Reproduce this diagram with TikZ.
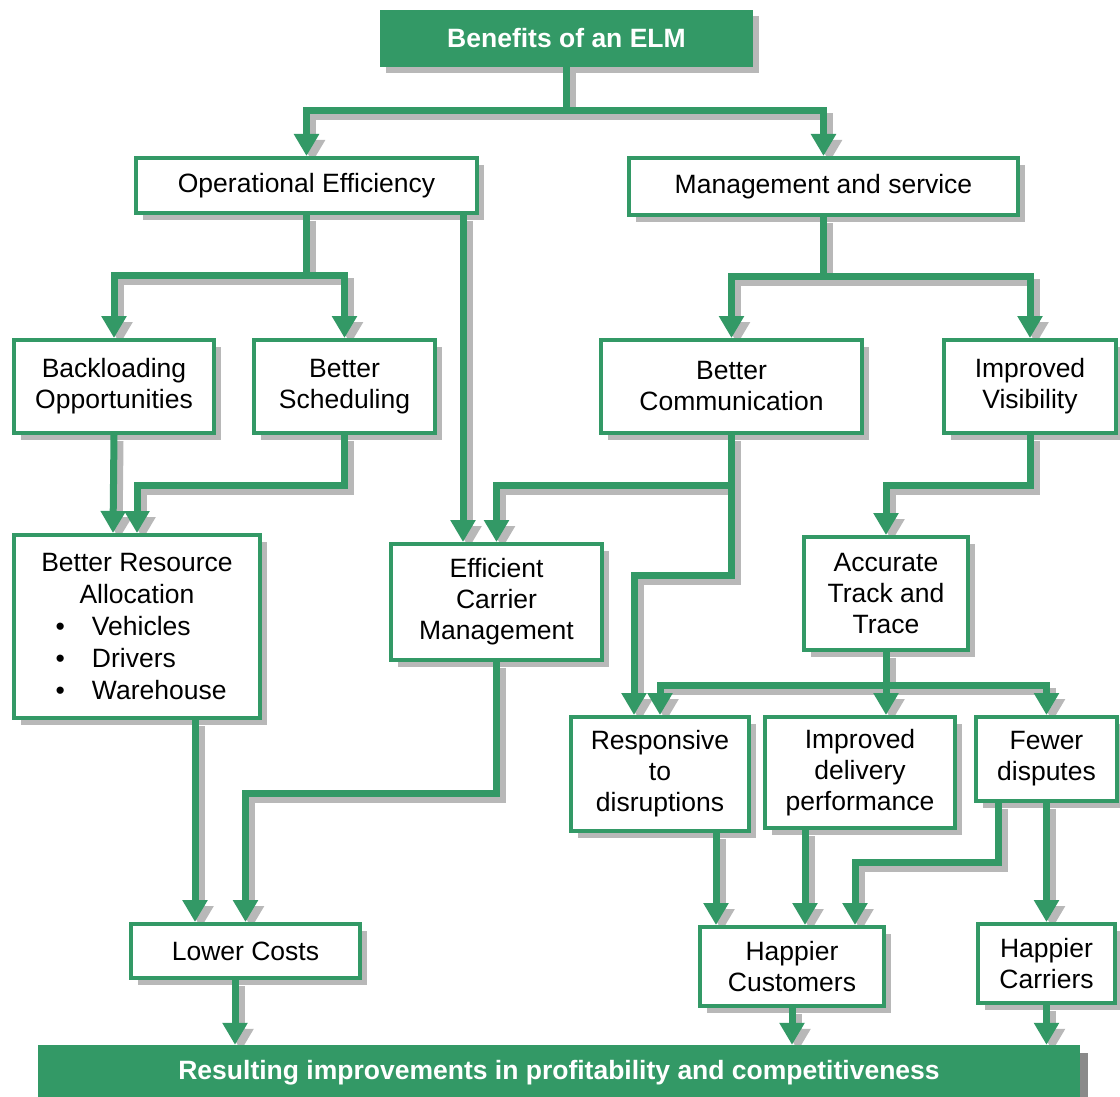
\documentclass[tikz,border=0pt]{standalone}
\usepackage{fontspec}
\setmainfont{Liberation Sans}
\usetikzlibrary{arrows.meta,shadows}
\definecolor{elmgreen}{HTML}{339966}
\definecolor{shgray}{HTML}{B8B8B8}
\definecolor{bargray}{HTML}{8A8A8A}
\pgfdeclarelayer{background}
\pgfsetlayers{background,main}
\newcommand\cnx[1]{%
  \begin{pgfonlayer}{background}\draw[conn,shgray,transform canvas={shift={(6pt,-6pt)}}] #1;\end{pgfonlayer}%
  \draw[conn] #1;}
\tikzset{
  conn/.style={draw=elmgreen, line width=7pt, line join=miter, -{Triangle[width=24pt,length=22pt]}},
  box/.style={draw=elmgreen, line width=4pt, fill=white, align=center, inner sep=0pt,
    font=\fontsize{26.5}{31}\selectfont,
    drop shadow={shadow xshift=7pt, shadow yshift=-7pt, opacity=1, fill=shgray}},
  hdr/.style={fill=elmgreen, draw=none, text=white, inner sep=0pt, align=center,
    font=\bfseries\fontsize{26.5}{31}\selectfont},
}
\begin{document}
\begin{tikzpicture}[x=1pt,y=-1pt]
\useasboundingbox (0,0) rectangle (1120,1097);
% header and footer
\node[hdr, minimum width=373pt, minimum height=57pt,
  drop shadow={shadow xshift=6pt, shadow yshift=-6pt, opacity=1, fill=shgray}] (title) at (566.5,38.5) {Benefits of an ELM};
\node[hdr, minimum width=1042pt, minimum height=56pt,
  drop shadow={shadow xshift=8pt, shadow yshift=-8pt, opacity=1, fill=bargray}] (bar) at (559,1073) {Resulting improvements in profitability and competitiveness};
% boxes
\node[box, minimum width=341pt, minimum height=55pt] (oe) at (306.5,185.5) {Operational Efficiency};
\node[box, minimum width=389pt, minimum height=57pt] (ms) at (823.5,186.5) {Management and service};
\node[box, minimum width=200pt, minimum height=93pt] (bo) at (114,386.5) {Backloading\\Opportunities};
\node[box, minimum width=181pt, minimum height=93pt] (bs) at (344.5,386.5) {Better\\Scheduling};
\node[box, minimum width=261pt, minimum height=93pt] (bc) at (731.5,386.5) {Better\\Communication};
\node[box, minimum width=172pt, minimum height=93pt] (iv) at (1030,386.5) {Improved\\Visibility};
\node[box, minimum width=246pt, minimum height=183pt, align=left, font=\fontsize{26.5}{32}\selectfont] (bra) at (137,626.5)
  {\makebox[230pt]{Better Resource}\\\makebox[230pt]{Allocation}\\
   \hspace*{33.5pt}\makebox[36.5pt][l]{\textbullet}Vehicles\\
   \hspace*{33.5pt}\makebox[36.5pt][l]{\textbullet}Drivers\\
   \hspace*{33.5pt}\makebox[36.5pt][l]{\textbullet}Warehouse};
\node[box, minimum width=211pt, minimum height=116pt] (ecm) at (496.5,602) {Efficient\\Carrier\\Management};
\node[box, minimum width=164pt, minimum height=113pt] (att) at (886,593.5) {Accurate\\Track and\\Trace};
\node[box, minimum width=178pt, minimum height=114pt] (rd) at (660,774) {Responsive\\to\\disruptions};
\node[box, minimum width=190pt, minimum height=111pt] (idp) at (860,772.5) {Improved\\delivery\\performance};
\node[box, minimum width=141pt, minimum height=84pt] (fd) at (1046.5,759) {Fewer\\disputes};
\node[box, minimum width=229pt, minimum height=54pt] (lc) at (245.5,951) {Lower Costs};
\node[box, minimum width=184pt, minimum height=79pt] (hcu) at (792,966.5) {Happier\\Customers};
\node[box, minimum width=137pt, minimum height=79pt] (hca) at (1046.5,963.5) {Happier\\Carriers};
% connectors
\cnx{(title.south) -- ++(0,43) -| (oe.north)}
\cnx{(title.south) -- ++(0,43) -| (ms.north)}
\cnx{(oe.south) -- ++(0,60) -| (bo.north)}
\cnx{(oe.south) -- ++(0,60) -| (bs.north)}
\cnx{([xshift=156.5pt]oe.south) -- ([xshift=-33.5pt]ecm.north)}
\cnx{(ms.south) -- ++(0,59) -| (bc.north)}
\cnx{(ms.south) -- ++(0,59) -| (iv.north)}
\cnx{(bo.south) -- ([xshift=-24pt]bra.north)}
\cnx{(bs.south) -- ++(0,50) -| (bra.north)}
\cnx{(bc.south) -- ++(0,50) -| (ecm.north)}
\cnx{(bc.south) -- ++(0,140) -| ([xshift=-26pt]rd.north)}
\cnx{(iv.south) -- ++(0,50) -| (att.north)}
\cnx{(att.south) -- ++(0,33) -| (rd.north)}
\cnx{(att.south) -- ++(0,33) -| (fd.north)}
\cnx{(att.south) -- ([xshift=26pt]idp.north)}
\cnx{([xshift=58pt]bra.south) -- ([xshift=-50.5pt]lc.north)}
\cnx{(ecm.south) -- ++(0,131) -| (lc.north)}
\cnx{([xshift=56pt]rd.south) -- ([xshift=-76pt]hcu.north)}
\cnx{([xshift=-55pt]idp.south) -- ([xshift=13pt]hcu.north)}
\cnx{([xshift=-48.5pt]fd.south) -- ++(0,59) -| ([xshift=63pt]hcu.north)}
\cnx{(fd.south) -- (hca.north)}
\cnx{([xshift=-10.5pt]lc.south) -- ([xshift=-324pt]bar.north)}
\cnx{(hcu.south) -- ([xshift=233pt]bar.north)}
\cnx{(hca.south) -- ([xshift=487.5pt]bar.north)}
\end{tikzpicture}
\end{document}
